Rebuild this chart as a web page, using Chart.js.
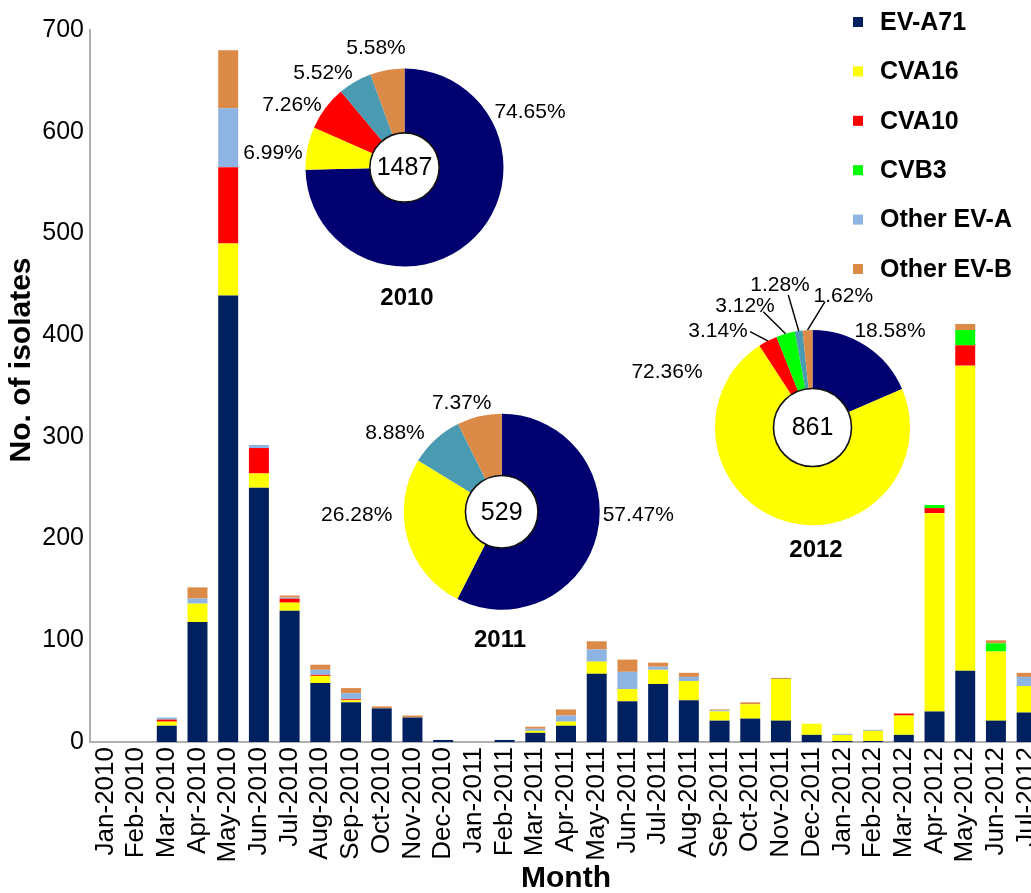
<!DOCTYPE html>
<html>
<head>
<meta charset="utf-8">
<script src="https://cdn.jsdelivr.net/npm/chart.js@4.4.1/dist/chart.umd.min.js"></script>
<style>
html,body{margin:0;padding:0;overflow:hidden;background:#fff;width:1031px;height:893px}
#wrap{position:relative;width:1031px;height:893px;overflow:hidden;background:#fff}
canvas{position:absolute;display:block}
</style>
</head>
<body>
<div id="wrap">
<canvas id="bar" width="1042" height="893" style="left:0;top:0"></canvas>
<canvas id="p2010"></canvas>
<canvas id="p2011"></canvas>
<canvas id="p2012"></canvas>
</div>
<script>
// ---------------- DATA ----------------
const months = ['Jan-2010','Feb-2010','Mar-2010','Apr-2010','May-2010','Jun-2010','Jul-2010','Aug-2010','Sep-2010','Oct-2010','Nov-2010','Dec-2010',
                'Jan-2011','Feb-2011','Mar-2011','Apr-2011','May-2011','Jun-2011','Jul-2011','Aug-2011','Sep-2011','Oct-2011','Nov-2011','Dec-2011',
                'Jan-2012','Feb-2012','Mar-2012','Apr-2012','May-2012','Jun-2012','Jul-2012'];
const seriesNames = ['EV-A71','CVA16','CVA10','CVB3','Other EV-A','Other EV-B'];
const evA71    = [0,0,16,118,439,250,129,58,39,33,24,2, 0,2,9,16,67,40,57,41,21,23,21,7, 1,1,7,30,70,21,29];
const cva16    = [0,0,4,18,51,14,8,7,2,0,0,0, 0,0,2,4,12,12,14,19,9,14,41,11, 6,10,19,195,300,68,26];
const cva10    = [0,0,2,0,75,25,4,1,1,0,0,0, 0,0,0,0,0,0,0,0,0,0,0,0, 0,0,2,5,20,0,0];
const cvb3     = [0,0,0,0,0,0,0,0,0,0,0,0, 0,0,0,0,0,0,0,0,0,0,0,0, 0,0,0,3,15,8,0];
const otherEVA = [0,0,2,5,58,3,1,5,6,0,0,0, 0,0,2,6,12,17,3,4,1,0,0,0, 1,1,0,0,0,0,9];
const otherEVB = [0,0,0,11,57,0,2,5,5,2,2,0, 0,0,2,6,8,12,4,4,1,2,1,0, 0,0,0,0,6,3,4];
const yTicks = [0,100,200,300,400,500,600,700];

const pie2010Labels = ['EV-A71','CVA16','CVA10','Other EV-A','Other EV-B'];
const pie2010Values = [74.65,6.99,7.26,5.52,5.58];
const pie2010Total = 1487;
const pie2011Labels = ['EV-A71','CVA16','Other EV-A','Other EV-B'];
const pie2011Values = [57.47,26.28,8.88,7.37];
const pie2011Total = 529;
const pie2012Labels = ['EV-A71','CVA16','CVA10','CVB3','Other EV-A','Other EV-B'];
const pie2012Values = [18.58,72.36,3.14,3.12,1.28,1.62];
const pie2012Total = 861;

// ---------------- STYLE ----------------
const FONT = '"Liberation Sans", Arial, Helvetica, sans-serif';
const barColors = {'EV-A71':'#002060','CVA16':'#ffff00','CVA10':'#ff0000','CVB3':'#00ff00','Other EV-A':'#8db4e2','Other EV-B':'#dc8a48'};
const pieColors = {'EV-A71':'#000070','CVA16':'#ffff00','CVA10':'#ff0000','CVB3':'#00ff00','Other EV-A':'#4a9ab2','Other EV-B':'#dc8a48'};
const seriesData = [evA71,cva16,cva10,cvb3,otherEVA,otherEVB];

const titlesLegend = {
  id:'titlesLegend',
  afterDraw(chart){
    const ctx = chart.ctx;
    ctx.save();
    ctx.fillStyle = '#000';
    // y title
    ctx.save();
    ctx.translate(22, 360);
    ctx.rotate(-Math.PI/2);
    ctx.font = 'bold 30px ' + FONT;
    ctx.textAlign = 'center'; ctx.textBaseline = 'middle';
    ctx.fillText('No. of isolates', 0, 0);
    ctx.restore();
    // x title
    ctx.font = 'bold 30px ' + FONT;
    ctx.textAlign = 'center'; ctx.textBaseline = 'middle';
    ctx.fillText('Month', (chart.chartArea.left + chart.chartArea.right)/2, 879);
    // legend
    chart.data.datasets.forEach((ds,i)=>{
      const yc = 22 + i*49.4;
      ctx.fillStyle = ds.backgroundColor;
      ctx.fillRect(853, yc-5, 10, 10);
      ctx.fillStyle = '#000';
      ctx.font = 'bold 25px ' + FONT;
      ctx.textAlign = 'left'; ctx.textBaseline = 'middle';
      ctx.fillText(ds.label, 880, yc+1);
    });
    ctx.restore();
  }
};

new Chart(document.getElementById('bar'), {
  type:'bar',
  data:{
    labels: months,
    datasets: seriesNames.map((n,i)=>({label:n, data:seriesData[i], backgroundColor:barColors[n], borderWidth:0, barPercentage:0.65, categoryPercentage:1}))
  },
  options:{
    responsive:false, animation:false,
    layout:{padding:{top:30,left:0,right:0,bottom:0}, autoPadding:false},
    plugins:{legend:{display:false}, tooltip:{enabled:false}},
    scales:{
      x:{stacked:true,
         grid:{display:false, drawTicks:false},
         border:{color:'#b0b0b0', width:2},
         ticks:{font:{family:FONT, size:26}, color:'#000', minRotation:90, maxRotation:90, padding:5, autoSkip:false},
         afterFit(s){ s.height = 151; s.paddingLeft = 0; s.paddingRight = 0; }},
      y:{stacked:true, min:0, max:700,
         grid:{display:false, drawTicks:false},
         border:{color:'#b0b0b0', width:2},
         afterBuildTicks(s){ s.ticks = yTicks.map(v=>({value:v})); },
         ticks:{font:{family:FONT, size:25}, color:'#000', padding:6},
         afterFit(s){ s.width = 90; s.paddingTop = 0; s.paddingBottom = 0; }}
    }
  },
  plugins:[titlesLegend]
});

// ---------------- PIES ----------------
const pieLayouts = {
  p2010:{cx:404.5, cy:167.5, r:99, cutout:'35%', w:400, h:320, ox:200, oy:160,
         labelPos:[[125.5,-55.5],[-131.5,-14.5],[-112.5,-62.5],[-81.5,-94.5],[-28.5,-119.5]], yearPos:[2.5,130.5], leaders:null},
  p2011:{cx:501.7, cy:511.7, r:98, cutout:'37%', w:420, h:320, ox:210, oy:160,
         labelPos:[[136.6,3.3],[-145,3.3],[-106.7,-78.7],[-40,-108.4]], yearPos:[-1.7,128.3], leaders:null},
  p2012:{cx:812.5, cy:427.5, r:97.5, cutout:'40%', w:420, h:340, ox:210, oy:175,
         labelPos:[[77.5,-95.8],[-145.5,-55.5],[-94.5,-95.8],[-67.5,-120.8],[-32.5,-142.5],[30.8,-130.8]], yearPos:[3.5,122.5],
         leaders:[null,null,[-62.5,-95.8],[-49.2,-115.8],[-24.2,-132.5],[12.5,-125.8]]}
};

function pieDeco(layout, total, year){
  return {
    id:'pieDeco',
    afterDraw(chart){
      const ctx = chart.ctx;
      const meta = chart.getDatasetMeta(0);
      const a0 = meta.data[0];
      const cx = a0.x, cy = a0.y, ri = a0.innerRadius, ro = a0.outerRadius;
      ctx.save();
      ctx.beginPath(); ctx.arc(cx, cy, ri, 0, Math.PI*2);
      ctx.fillStyle = '#fff'; ctx.fill();
      ctx.lineWidth = 1.6; ctx.strokeStyle = '#111'; ctx.stroke();
      ctx.fillStyle = '#000';
      ctx.textAlign = 'center'; ctx.textBaseline = 'middle';
      ctx.font = '25px ' + FONT;
      ctx.fillText(String(total), cx, cy+1);
      if (layout.leaders){
        ctx.strokeStyle = '#000'; ctx.lineWidth = 1.4;
        layout.leaders.forEach((p,i)=>{
          if(!p) return;
          const arc = meta.data[i];
          const mid = (arc.startAngle + arc.endAngle)/2;
          ctx.beginPath();
          ctx.moveTo(cx + p[0], cy + p[1]);
          ctx.lineTo(cx + Math.cos(mid)*ro, cy + Math.sin(mid)*ro);
          ctx.stroke();
        });
      }
      ctx.font = '21px ' + FONT;
      chart.data.datasets[0].data.forEach((v,i)=>{
        const p = layout.labelPos[i];
        ctx.fillText(v.toFixed(2)+'%', cx + p[0], cy + p[1]);
      });
      ctx.font = 'bold 24px ' + FONT;
      ctx.fillText(year, cx + layout.yearPos[0], cy + layout.yearPos[1]);
      ctx.restore();
    }
  };
}

function makePie(id, labels, values, total, year){
  const L = pieLayouts[id];
  const el = document.getElementById(id);
  const left = Math.round(L.cx - L.ox), top = Math.round(L.cy - L.oy);
  const ox = L.cx - left, oy = L.cy - top;
  el.width = L.w; el.height = L.h;
  el.style.left = left + 'px'; el.style.top = top + 'px';
  el.style.width = L.w + 'px'; el.style.height = L.h + 'px';
  new Chart(el, {
    type:'doughnut',
    data:{labels:labels, datasets:[{data:values, backgroundColor:labels.map(l=>pieColors[l]), borderWidth:0, hoverOffset:0}]},
    options:{
      responsive:false, animation:false, cutout:L.cutout,
      layout:{padding:{left:ox-L.r, right:L.w-ox-L.r, top:oy-L.r, bottom:L.h-oy-L.r}, autoPadding:false},
      plugins:{legend:{display:false}, tooltip:{enabled:false}}
    },
    plugins:[pieDeco(L, total, year)]
  });
}

makePie('p2010', pie2010Labels, pie2010Values, pie2010Total, '2010');
makePie('p2011', pie2011Labels, pie2011Values, pie2011Total, '2011');
makePie('p2012', pie2012Labels, pie2012Values, pie2012Total, '2012');
</script>
</body>
</html>
